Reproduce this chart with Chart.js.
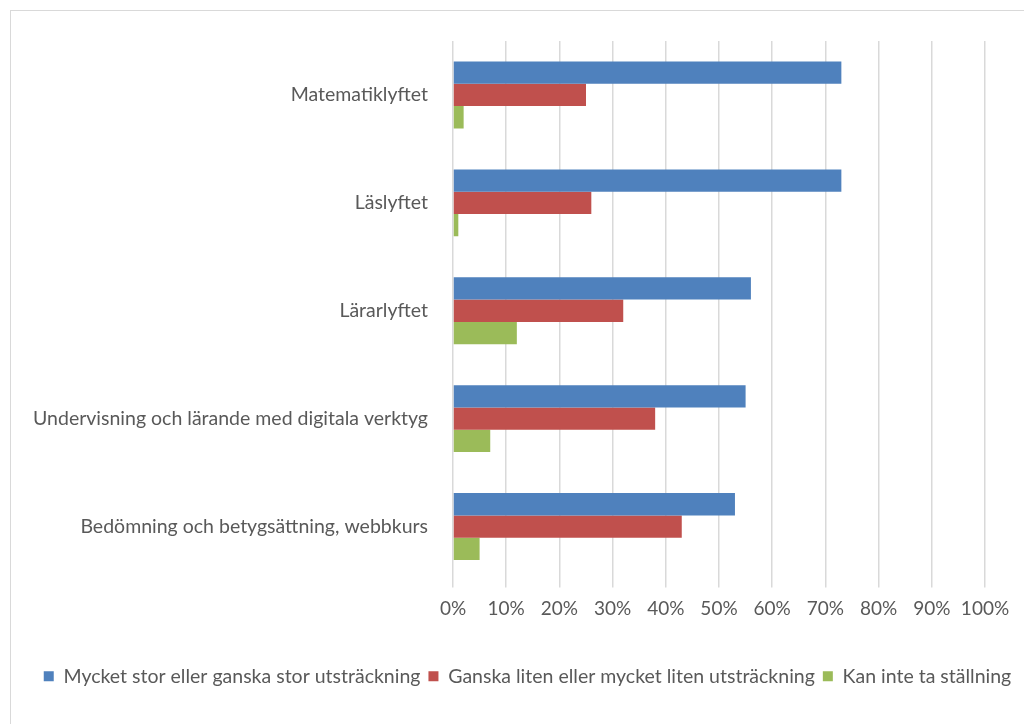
<!DOCTYPE html>
<html>
<head>
<meta charset="utf-8">
<script src="https://cdn.jsdelivr.net/npm/chart.js@4"></script>
<style>
  html, body { margin: 0; padding: 0; background: #fff; }
  #wrap { position: relative; width: 1024px; height: 724px; overflow: hidden; }
  #frame { position: absolute; left: 10px; top: 10px; width: 1100px; height: 800px;
           border: 1px solid #d9d9d9; box-sizing: border-box; }
  canvas { position: absolute; left: 0; top: 0; }
</style>
</head>
<body>
<div id="wrap">
  <div id="frame"></div>
  <canvas id="chart" width="1024" height="724"></canvas>
</div>
<script>
// ══ DATA ══
const categories = [
  'Matematiklyftet',
  'Läslyftet',
  'Lärarlyftet',
  'Undervisning och lärande med digitala verktyg',
  'Bedömning och betygsättning, webbkurs'
];
const seriesNames = [
  'Mycket stor eller ganska stor utsträckning',
  'Ganska liten eller mycket liten utsträckning',
  'Kan inte ta ställning'
];
const bigShare   = [73, 73, 56, 55, 53];
const smallShare = [25, 26, 32, 38, 43];
const noAnswer   = [2, 1, 12, 7, 5];
const xTicks = [0, 10, 20, 30, 40, 50, 60, 70, 80, 90, 100];

const FONT = 'Lato, "Open Sans", sans-serif';
const GREY = '#595959';

// original legend sits centred on a wider box than the plot, nudge it right
const legendShift = {
  id: 'legendShift',
  afterLayout(chart) {
    chart.legend.left += 35;
    chart.legend.right += 35;
  }
};

new Chart(document.getElementById('chart'), {
  type: 'bar',
  data: {
    labels: categories,
    datasets: [
      { label: seriesNames[0], data: bigShare,   backgroundColor: '#4F81BD' },
      { label: seriesNames[1], data: smallShare, backgroundColor: '#C0504D' },
      { label: seriesNames[2], data: noAnswer,   backgroundColor: '#9BBB59' }
    ]
  },
  plugins: [legendShift],
  options: {
    indexAxis: 'y',
    responsive: false,
    animation: false,
    layout: { padding: { top: 41, right: 39, left: 0, bottom: 28 } },
    datasets: { bar: { barPercentage: 1, categoryPercentage: 0.62 } },
    plugins: {
      tooltip: { enabled: false },
      legend: {
        position: 'bottom',
        labels: {
          color: GREY, boxWidth: 10, boxHeight: 10, padding: 8,
          font: { size: 19.5, family: FONT }
        }
      }
    },
    scales: {
      x: {
        min: 0, max: 100,
        afterBuildTicks: s => { s.ticks = xTicks.map(v => ({ value: v })); },
        afterFit: s => { s.height = 78; },
        border: { display: false },
        grid: { color: '#d9d9d9', lineWidth: 1.5, tickLength: 7 },
        ticks: {
          color: GREY, padding: 10, maxRotation: 0,
          font: { size: 19, family: FONT },
          callback: v => v + '%'
        }
      },
      y: {
        afterFit: s => { s.width = 453; },
        border: { display: false },
        grid: { display: false, drawTicks: false },
        ticks: { color: GREY, padding: 25, font: { size: 19.5, family: FONT } }
      }
    }
  }
});
</script>
</body>
</html>
